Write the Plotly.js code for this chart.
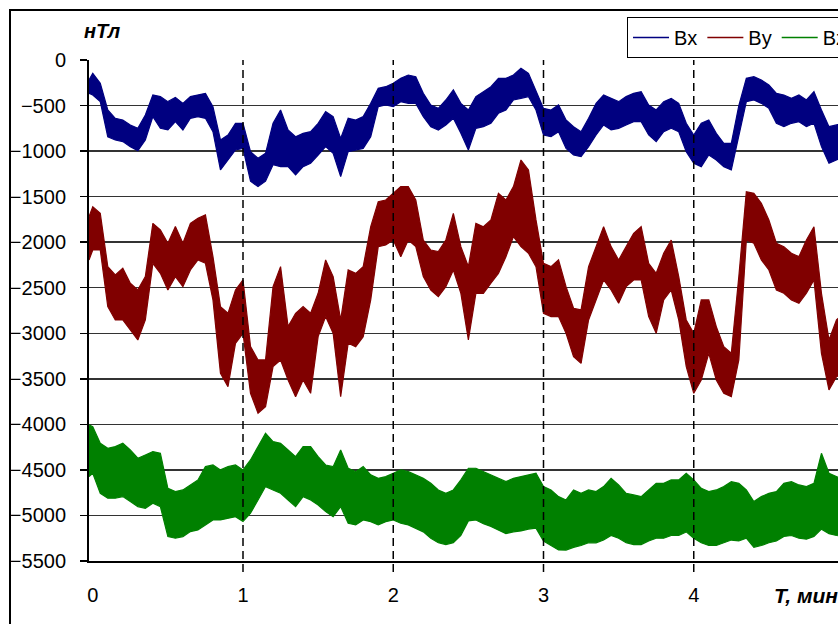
<!DOCTYPE html>
<html>
<head>
<meta charset="utf-8">
<script src="https://cdn.plot.ly/plotly-3.0.1.min.js"></script>
<style>
html,body{margin:0;padding:0;background:#fff;overflow:hidden;width:838px;height:624px;}
#chart{position:absolute;left:0;top:0;width:900px;height:660px;}
#frame{position:absolute;left:9px;top:9px;width:1000px;height:1000px;border:2px solid #000;pointer-events:none;}
</style>
</head>
<body>
<div id="chart"></div>
<div id="frame"></div>
<script>
// time, minutes
const T = [-0.025,0,0.05,0.1,0.15,0.2,0.25,0.3,0.35,0.4,0.45,0.5,0.55,0.6,0.65,0.7,0.75,0.8,0.85,0.9,0.95,
1.0,1.05,1.1,1.15,1.2,1.25,1.3,1.35,1.4,1.45,1.5,1.55,1.6,1.65,1.7,1.75,1.8,1.85,1.9,1.95,
2.0,2.05,2.1,2.15,2.2,2.25,2.3,2.35,2.4,2.45,2.5,2.55,2.6,2.65,2.7,2.75,2.8,2.85,2.9,2.95,
3.0,3.05,3.1,3.15,3.2,3.25,3.3,3.35,3.4,3.45,3.5,3.55,3.6,3.65,3.7,3.75,3.8,3.85,3.9,3.95,
4.0,4.05,4.1,4.15,4.2,4.25,4.3,4.35,4.4,4.45,4.5,4.55,4.6,4.65,4.7,4.75,4.8,4.85,4.9,4.95,5.0];

// Bx upper / lower envelope, nT
const bxHi = [-220,-146,-256,-549,-640,-659,-713,-750,-604,-384,-402,-457,-410,-476,-402,-384,-366,-512,-878,-823,-695,
-695,-1006,-1079,-1024,-695,-549,-768,-842,-805,-787,-695,-567,-622,-860,-640,-659,-622,-476,-311,-293,
-256,-201,-165,-183,-366,-494,-531,-439,-329,-476,-549,-402,-348,-293,-201,-201,-165,-91,-146,-329,
-531,-549,-494,-659,-732,-787,-640,-476,-384,-421,-457,-402,-366,-348,-494,-549,-457,-421,-476,-695,
-823,-695,-659,-805,-915,-915,-500,-201,-183,-220,-274,-366,-384,-421,-384,-439,-348,-549,-732,-713,-695];
const bxLo = [-366,-384,-457,-842,-878,-896,-951,-995,-878,-622,-750,-768,-677,-768,-640,-622,-640,-787,-1207,-1098,-988,
-970,-1330,-1390,-1330,-1150,-1171,-1171,-1262,-1171,-1134,-1043,-951,-1024,-1281,-1006,-988,-970,-842,-512,-494,
-512,-457,-476,-476,-622,-732,-768,-713,-640,-805,-988,-750,-732,-695,-585,-549,-439,-421,-402,-549,
-823,-842,-787,-970,-1043,-1061,-951,-823,-713,-768,-750,-713,-677,-677,-823,-896,-787,-750,-787,-1006,
-1134,-1171,-1043,-1098,-1171,-1207,-850,-457,-439,-476,-531,-695,-732,-695,-677,-732,-695,-951,-1134,-1098,-1061];

// By upper / lower envelope, nT
const byHi = [-1720,-1610,-1683,-2268,-2360,-2287,-2451,-2524,-2378,-1793,-1866,-2012,-1829,-2012,-1793,-1738,-1701,-2159,-2707,-2781,-2524,
-2415,-3146,-3293,-3293,-2488,-2268,-2927,-2781,-2708,-2781,-2561,-2195,-2378,-2854,-2305,-2342,-2268,-1830,-1555,-1537,
-1464,-1390,-1390,-1537,-1976,-2086,-2104,-1976,-1683,-2049,-2268,-1793,-1830,-1756,-1464,-1537,-1390,-1098,-1207,-1756,
-2232,-2268,-2195,-2488,-2726,-2744,-2269,-2049,-1830,-2049,-2195,-2049,-1903,-1830,-2232,-2342,-2122,-1976,-2378,-2854,
-3000,-2634,-2634,-2927,-3147,-3220,-2378,-1445,-1464,-1573,-1756,-2012,-2049,-2122,-2159,-1976,-1830,-2561,-3073,-2854,-2781];
const byLo = [-2195,-2085,-2085,-2707,-2854,-2854,-2964,-3073,-2854,-2232,-2342,-2524,-2378,-2488,-2305,-2195,-2232,-2634,-3439,-3586,-3110,
-3000,-3659,-3878,-3805,-3366,-3293,-3513,-3696,-3513,-3659,-3037,-2817,-3000,-3696,-3110,-3147,-3037,-2634,-2049,-2031,
-1976,-2159,-1976,-2049,-2378,-2525,-2598,-2488,-2305,-2561,-3073,-2561,-2561,-2451,-2342,-2159,-1939,-2049,-2122,-2268,
-2781,-2817,-2817,-3000,-3257,-3330,-2854,-2634,-2415,-2525,-2671,-2488,-2415,-2415,-2817,-3000,-2634,-2525,-2854,-3366,
-3659,-3513,-3220,-3513,-3659,-3696,-3293,-1976,-2012,-2195,-2305,-2525,-2561,-2634,-2671,-2561,-2415,-3220,-3622,-3476,-3440];

// Bz upper / lower envelope, nT
const bzHi = [-4006,-4025,-4208,-4263,-4244,-4208,-4281,-4372,-4336,-4299,-4317,-4702,-4738,-4720,-4665,-4610,-4464,-4446,-4500,-4464,-4445,
-4500,-4391,-4244,-4098,-4189,-4208,-4281,-4354,-4244,-4244,-4354,-4446,-4464,-4281,-4482,-4519,-4464,-4555,-4592,-4574,
-4537,-4500,-4519,-4555,-4592,-4647,-4720,-4757,-4720,-4610,-4482,-4482,-4519,-4555,-4592,-4629,-4592,-4574,-4555,-4537,
-4683,-4720,-4793,-4830,-4720,-4757,-4720,-4738,-4683,-4592,-4665,-4757,-4775,-4793,-4720,-4647,-4647,-4610,-4610,-4537,
-4610,-4702,-4738,-4720,-4683,-4629,-4647,-4720,-4848,-4793,-4757,-4738,-4647,-4629,-4665,-4683,-4647,-4318,-4537,-4574,-4610];
const bzLo = [-4574,-4537,-4757,-4811,-4811,-4793,-4848,-4903,-4921,-4866,-4903,-5232,-5250,-5232,-5177,-5159,-5104,-5049,-5049,-5031,-5013,
-5067,-4976,-4830,-4683,-4720,-4757,-4830,-4903,-4793,-4830,-4885,-4958,-5013,-4903,-5086,-5104,-5049,-5068,-5104,-5068,
-5049,-5086,-5104,-5141,-5180,-5250,-5300,-5320,-5300,-5220,-5060,-5050,-5090,-5120,-5160,-5200,-5180,-5170,-5150,-5140,
-5280,-5330,-5379,-5380,-5350,-5330,-5300,-5300,-5270,-5220,-5250,-5300,-5320,-5320,-5280,-5250,-5250,-5220,-5220,-5180,
-5250,-5300,-5330,-5330,-5300,-5270,-5280,-5250,-5350,-5330,-5300,-5280,-5230,-5220,-5250,-5260,-5230,-5150,-5200,-5220,-5230];

const seriesNames = ['Bx','By','Bz'];
const seriesColors = ['#000080','#800000','#008000'];
const xTickVals = [0,1,2,3,4,5];
const xTickText = ['0','1','2','3','4','5'];
const xGridVals = [1,2,3,4];
const yTickVals = [0,-500,-1000,-1500,-2000,-2500,-3000,-3500,-4000,-4500,-5000,-5500];

const hi = [bxHi, byHi, bzHi];
const lo = [bxLo, byLo, bzLo];
const traces = [];
for (let i = 0; i < 3; i++) {
  traces.push({x: T, y: hi[i], type: 'scatter', mode: 'lines', name: seriesNames[i],
    line: {color: seriesColors[i], width: 1.2}, showlegend: false});
  traces.push({x: T, y: lo[i], type: 'scatter', mode: 'lines', name: seriesNames[i],
    line: {color: seriesColors[i], width: 1.2}, fill: 'tonexty', fillcolor: seriesColors[i], showlegend: false});
}
// legend entries (line samples only)
for (let i = 0; i < 3; i++) {
  traces.push({x: [null], y: [null], type: 'scatter', mode: 'lines', name: seriesNames[i],
    line: {color: seriesColors[i], width: 1.5}, showlegend: true});
}

const font = {family: 'Liberation Sans, Arial, sans-serif', size: 20, color: '#000'};
const shapes = xGridVals.map(v => ({type: 'line', xref: 'x', yref: 'paper', x0: v, x1: v, y0: -0.022, y1: 1,
  line: {color: '#000', width: 1.5, dash: '8px,5px'}, layer: 'above'}));

const layout = {
  width: 900, height: 660,
  margin: {l: 89, r: 56, t: 60, b: 99},
  paper_bgcolor: 'rgba(0,0,0,0)', plot_bgcolor: '#fff',
  font: font,
  showlegend: true,
  legend: {orientation: 'h', traceorder: 'normal', x: 0.7126, xanchor: 'left', y: 1.0858, yanchor: 'top', itemwidth: 36,
    bordercolor: '#000', borderwidth: 1, bgcolor: '#fff', font: {family: font.family, size: 20, color: '#000'}},
  xaxis: {range: [-0.025, 5.0], tickvals: xTickVals, ticktext: xTickText, showgrid: false, zeroline: false,
    showline: true, linecolor: '#000', linewidth: 2, ticks: '', ticklabelstandoff: 15, tickfont: font},
  yaxis: {range: [-5500, 0], tickvals: yTickVals, showgrid: true, gridcolor: '#333', gridwidth: 1.5, zeroline: false,
    showline: true, linecolor: '#000', linewidth: 2, ticks: 'outside', ticklen: 7, tickwidth: 1.5, tickcolor: '#000',
    ticklabelstandoff: 10, tickfont: font},
  shapes: shapes,
  annotations: [
    {text: '<b><i>нТл</i></b>', xref: 'paper', yref: 'paper', x: -0.009, y: 1.058, xanchor: 'left', yanchor: 'middle',
      showarrow: false, font: {family: font.family, size: 20, color: '#000'}},
    {text: '<b><i>T, мин</i></b>', xref: 'paper', yref: 'paper', x: 0.9046, y: -0.068, xanchor: 'left', yanchor: 'middle',
      showarrow: false, font: {family: font.family, size: 21, color: '#000'}}
  ]
};

Plotly.newPlot('chart', traces, layout, {staticPlot: true, displayModeBar: false});
</script>
</body>
</html>
